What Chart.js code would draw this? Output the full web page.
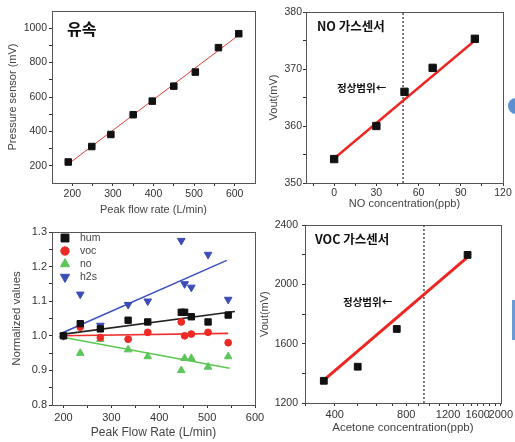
<!DOCTYPE html>
<html>
<head>
<meta charset="utf-8">
<script src="https://cdn.jsdelivr.net/npm/chart.js@4.4.1/dist/chart.umd.min.js"></script>
<style>
  html, body { margin:0; padding:0; background:#fff; }
  #wrap { position:relative; width:515px; height:442px; overflow:hidden; background:#fff; }
  #wrap canvas { position:absolute; }
  .deco { position:absolute; }
</style>
</head>
<body>
<div id="wrap">
  <canvas id="flowChart" style="left:0;top:0;" width="262" height="218"></canvas>
  <canvas id="noChart" style="left:258px;top:0;" width="257" height="215"></canvas>
  <canvas id="normChart" style="left:0;top:215px;" width="270" height="227"></canvas>
  <canvas id="vocChart" style="left:258px;top:215px;" width="257" height="227"></canvas>
  <div class="deco" style="left:508px;top:98px;width:16px;height:16px;border-radius:50%;background:#5b8fcf;"></div>
  <div class="deco" style="left:512px;top:300px;width:4px;height:40px;background:#6a9ad8;"></div>
</div>
<script>
const FONT = "'Liberation Sans', Arial, sans-serif";
const KFONT = "'Noto Sans CJK KR', 'Noto Sans', sans-serif";

// --- DATA: flow (pressure sensor) ---
const flowRate = [190, 248, 295, 350, 397, 450, 503, 560, 610];
const pressureMv = [222, 312, 382, 497, 576, 663, 745, 887, 968];
const flowFitX = [190, 610];
const flowFitY = [210, 960];
const flowXTicks = [200, 250, 300, 350, 400, 450, 500, 550, 600];
const flowXLabels = [200, 300, 400, 500, 600];
const flowYTicks = [200, 300, 400, 500, 600, 700, 800, 900, 1000];
const flowYLabels = [200, 400, 600, 800, 1000];

// --- DATA: NO gas sensor ---
const noPpb = [0, 30, 50, 70, 100];
const noVout = [354.2, 360, 366, 370.2, 375.3];
const noFitX = [0, 100];
const noFitY = [354.3, 375.0];
const noLimit = 49;
const noXTicks = [-15, 0, 15, 30, 45, 60, 75, 90, 105, 120];
const noXLabels = [0, 30, 60, 90, 120];
const noYTicks = [350, 355, 360, 365, 370, 375, 380];
const noYLabels = [350, 360, 370, 380];

// --- DATA: normalized values vs peak flow ---
const peakFlow = [200, 235, 277, 335, 376, 446, 453, 467, 502, 544];
const humVals = [1.0, 1.035, 1.02, 1.045, 1.04, 1.068, 1.068, 1.055, 1.04, 1.06];
const vocVals = [1.0, 1.025, 0.995, 0.99, 1.01, 1.04, 1.0, 1.005, 1.01, 0.98];
const noVals  = [1.0, 0.95, 0.99, 0.96, 0.94, 0.90, 0.935, 0.935, 0.91, 0.94];
const h2sVals = [1.0, 1.12, 1.03, 1.09, 1.10, 1.275, 1.15, 1.14, 1.235, 1.105];
const humFit = { x: [197, 558], y: [1.004, 1.07] };
const vocFit = { x: [197, 544], y: [1.0, 1.007] };
const noFit  = { x: [190, 547], y: [0.998, 0.906] };
const h2sFit = { x: [197, 541], y: [1.008, 1.218] };
const normXTicks = [200, 250, 300, 350, 400, 450, 500, 550, 600];
const normXLabels = [200, 300, 400, 500, 600];
const normYTicks = [0.8, 0.85, 0.9, 0.95, 1.0, 1.05, 1.1, 1.15, 1.2, 1.25, 1.3];
const normYLabels = [0.8, 0.9, 1.0, 1.1, 1.2, 1.3];

// --- DATA: VOC gas sensor ---
const acetonePpb = [360, 500, 730, 1450];
const vocVout = [1350, 1445, 1700, 2200];
const vocFitX = [360, 1450];
const vocFitY = [1355, 2185];
const vocLimit = 950;
const vocXTicks = [300, 400, 500, 600, 700, 800, 900, 1000, 1100, 1200, 1300, 1400, 1500, 1600, 1700, 1800, 1900, 2000];
const vocXLabels = [400, 800, 1200, 1600, 2000];
const vocYTicks = [1200, 1400, 1600, 1800, 2000, 2200, 2400];
const vocYLabels = [1200, 1600, 2000, 2400];

// --- HELPERS ---
const pts = (xs, ys) => xs.map((x, i) => ({ x: x, y: ys[i] }));

function axis(o) {
  return {
    type: o.type || 'linear',
    position: o.position,
    min: o.min, max: o.max,
    afterFit: s => { if (s.isHorizontal()) s.height = o.size; else s.width = o.size; },
    afterBuildTicks: s => { s.ticks = o.ticks.map(v => ({ value: v })); },
    ticks: {
      autoSkip: false, maxRotation: 0, minRotation: 0, padding: o.pad,
      color: '#333', font: { family: FONT, size: o.tickSize || 10.5 },
      callback: v => o.labels.includes(v) ? (o.fmt ? o.fmt(v) : String(v)) : ''
    },
    grid: { drawOnChartArea: false, tickLength: 3, tickColor: '#333', color: '#333' },
    border: { display: false },
    title: { display: true, text: o.title, color: '#444', font: { family: FONT, size: o.titleSize || 11 }, padding: o.titlePad }
  };
}

// frame round the plot area + korean notes + legend inside the plot
const decoPlugin = {
  id: 'deco',
  beforeDatasetsDraw(chart) {
    const { ctx, chartArea: a } = chart;
    ctx.save();
    ctx.strokeStyle = '#555'; ctx.lineWidth = 1;
    ctx.strokeRect(Math.round(a.left) + 0.5, Math.round(a.top) + 0.5, Math.round(a.right - a.left), Math.round(a.bottom - a.top));
    ctx.restore();
  },
  afterDatasetsDraw(chart) {
    const { ctx, chartArea: a } = chart;
    const o = chart.options.plugins.deco || {};
    ctx.save();
    ctx.textBaseline = 'middle'; ctx.textAlign = 'left';
    (o.notes || []).forEach(n => {
      ctx.font = n.font; ctx.fillStyle = '#111';
      ctx.fillText(n.text, a.left + n.dx, a.top + n.dy);
    });
    (o.legend || []).forEach((l, i) => {
      const ds = chart.data.datasets[l.ds];
      const x = a.left + o.legendX, y = a.top + o.legendTop + i * o.legendGap;
      ctx.fillStyle = ds.backgroundColor; ctx.strokeStyle = ds.backgroundColor; ctx.lineWidth = 1;
      Chart.helpers.drawPoint(ctx, { pointStyle: ds.pointStyle, radius: l.r, rotation: ds.rotation || 0, borderWidth: 1 }, x, y);
      ctx.font = '10.5px ' + FONT; ctx.fillStyle = '#444';
      ctx.fillText(ds.label, x + 15, y);
    });
    ctx.restore();
  }
};

function makeChart(id, datasets, scales, padding, deco) {
  return new Chart(document.getElementById(id), {
    type: 'scatter',
    data: { datasets: datasets },
    options: {
      responsive: false, animation: false, devicePixelRatio: 1,
      layout: { padding: padding },
      scales: scales,
      plugins: { legend: { display: false }, tooltip: { enabled: false }, deco: deco }
    },
    plugins: [decoPlugin]
  });
}

const markers = (label, xs, ys, style, color, r, rot) => ({
  label: label, data: pts(xs, ys), pointStyle: style, rotation: rot || 0,
  pointRadius: r, backgroundColor: color, borderColor: color, borderWidth: 1
});
const fitLine = (xs, ys, color, w, dash) => ({
  data: pts(xs, ys), showLine: true, pointRadius: 0, borderColor: color,
  borderWidth: w, borderDash: dash || [], backgroundColor: color
});

// --- FLOW CHART ---
makeChart('flowChart', [
  markers('flow', flowRate, pressureMv, 'rect', '#111', 4.6),
  fitLine(flowFitX, flowFitY, '#f03a32', 1)
], {
  x: axis({ position: 'bottom', min: 150, max: 650, size: 35, pad: 2, ticks: flowXTicks, labels: flowXLabels,
            title: 'Peak flow rate (L/min)', titleSize: 11, titlePad: { top: 0, bottom: 1 } }),
  y: axis({ position: 'left', min: 100, max: 1100, size: 52, pad: 2, ticks: flowYTicks, labels: flowYLabels,
            title: 'Pressure sensor (mV)', titleSize: 11, titlePad: { top: 6, bottom: 0 } })
}, { top: 11, right: 7, left: 0, bottom: 0 }, {
  notes: [{ text: '유속', dx: 15, dy: 18, font: 'bold 16px ' + KFONT }]
});

// --- NO CHART ---
makeChart('noChart', [
  markers('no', noPpb, noVout, 'rect', '#111', 5.2),
  fitLine(noFitX, noFitY, '#ee2622', 2.4),
  fitLine([noLimit, noLimit], [350, 380], '#444', 1.4, [2, 2])
], {
  x: axis({ position: 'bottom', min: -20, max: 120, size: 32, pad: 1, ticks: noXTicks, labels: noXLabels,
            title: 'NO concentration(ppb)', titleSize: 11, titlePad: { top: 0, bottom: 4 } }),
  y: axis({ position: 'left', min: 350, max: 380, size: 48, pad: 1, ticks: noYTicks, labels: noYLabels,
            title: 'Vout(mV)', titleSize: 11, titlePad: { top: 9, bottom: 0 } })
}, { top: 12, right: 12, left: 0, bottom: 0 }, {
  notes: [
    { text: 'NO 가스센서', dx: 11, dy: 14, font: 'bold 12.5px ' + KFONT },
    { text: '정상범위←', dx: 31, dy: 76, font: 'bold 10.5px ' + KFONT }
  ]
});

// --- NORMALIZED CHART ---
makeChart('normChart', [
  markers('hum', peakFlow, humVals, 'rect', '#111', 4.5),
  markers('voc', peakFlow, vocVals, 'circle', '#ee2a24', 3.4),
  markers('no', peakFlow, noVals, 'triangle', '#5dc55a', 4.4),
  markers('h2s', peakFlow, h2sVals, 'triangle', '#3b4db5', 4.4, 180),
  fitLine(humFit.x, humFit.y, '#222', 1.6),
  fitLine(vocFit.x, vocFit.y, '#ee3030', 1.6),
  fitLine(noFit.x, noFit.y, '#5cc850', 1.6),
  fitLine(h2sFit.x, h2sFit.y, '#3d51c0', 1.6)
], {
  x: axis({ position: 'bottom', min: 176, max: 600, size: 37, pad: 3, ticks: normXTicks, labels: normXLabels, tickSize: 11,
            title: 'Peak Flow Rate (L/min)', titleSize: 12, titlePad: { top: 0, bottom: 2 } }),
  y: axis({ position: 'left', min: 0.8, max: 1.3, size: 52, pad: 2, ticks: normYTicks, labels: normYLabels, tickSize: 11,
            fmt: v => v.toFixed(1), title: 'Normalized values', titleSize: 11.5, titlePad: { top: 10, bottom: 0 } })
}, { top: 17, right: 15, left: 0, bottom: 0 }, {
  legendX: 13, legendTop: 6, legendGap: 13,
  legend: [{ ds: 0, r: 5.6 }, { ds: 1, r: 4.2 }, { ds: 2, r: 5.4 }, { ds: 3, r: 5.4 }]
});

// --- VOC CHART ---
makeChart('vocChart', [
  markers('voc', acetonePpb, vocVout, 'rect', '#111', 4.8),
  fitLine(vocFitX, vocFitY, '#ee2622', 3),
  fitLine([vocLimit, vocLimit], [1200, 2400], '#444', 1.4, [2, 2])
], {
  x: axis({ type: 'logarithmic', position: 'bottom', min: 300, max: 2000, size: 39, pad: 2, ticks: vocXTicks, labels: vocXLabels, tickSize: 11,
            title: 'Acetone concentration(ppb)', titleSize: 11.5, titlePad: { top: 0, bottom: 7 } }),
  y: axis({ position: 'left', min: 1200, max: 2400, size: 47, pad: 4, ticks: vocYTicks, labels: vocYLabels,
            title: 'Vout(mV)', titleSize: 11, titlePad: { top: 0, bottom: 0 } })
}, { top: 10, right: 12, left: 0, bottom: 0 }, {
  notes: [
    { text: 'VOC 가스센서', dx: 10, dy: 14, font: 'bold 12.5px ' + KFONT },
    { text: '정상범위←', dx: 38, dy: 77, font: 'bold 10.5px ' + KFONT }
  ]
});
</script>
</body>
</html>
